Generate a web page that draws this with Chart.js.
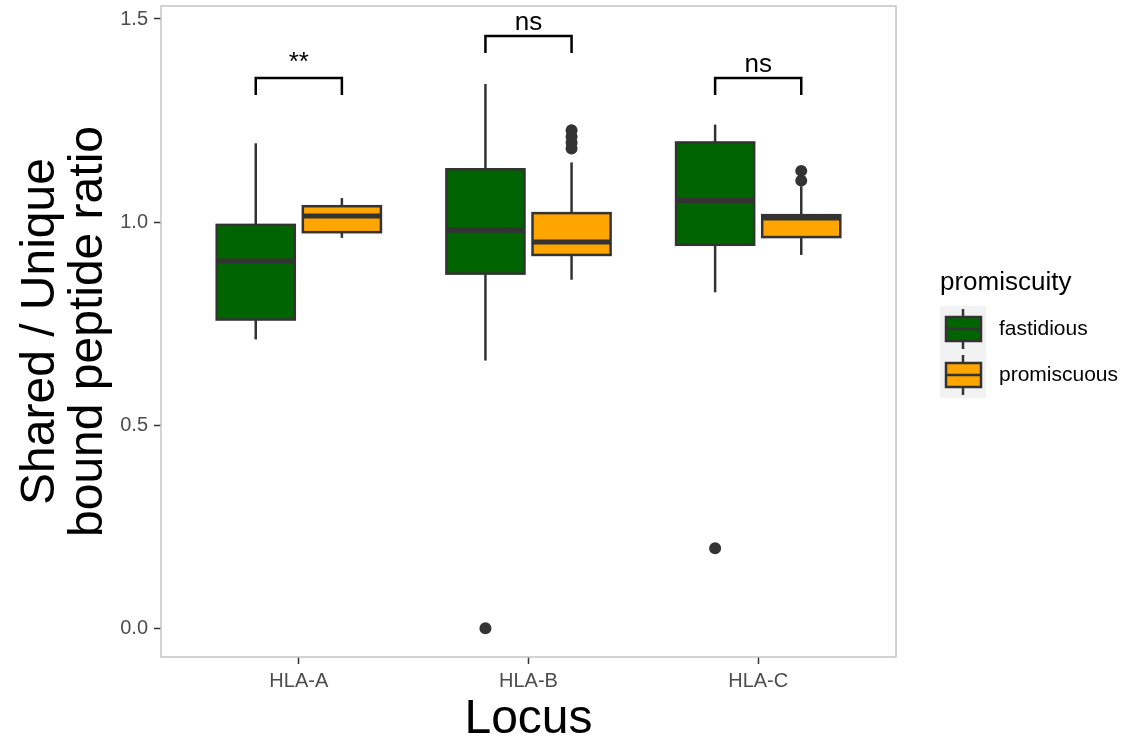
<!DOCTYPE html>
<html>
<head>
<meta charset="utf-8">
<script src="https://cdn.jsdelivr.net/npm/chart.js@4/dist/chart.umd.min.js"></script>
<style>
    body { margin: 0; background: #fff; }
    canvas { display: block; }
</style>
</head>
<body>
<canvas id="box-js" width="1126" height="740"></canvas>
<script>
const loci = ['HLA-A', 'HLA-B', 'HLA-C'];
const yTicks = [0, 0.5, 1.0, 1.5];

// fastidious boxes (whisker low, q1, median, q3, whisker high)
const fastidiousLow = [0.711, 0.659, 0.827];
const fastidiousQ1 = [0.760, 0.873, 0.944];
const fastidiousMedian = [0.904, 0.980, 1.053];
const fastidiousQ3 = [0.993, 1.130, 1.196];
const fastidiousHigh = [1.194, 1.340, 1.240];
const fastidiousOutliers = [[], [0.0], [0.197]];

// promiscuous boxes
const promiscuousLow = [0.961, 0.858, 0.919];
const promiscuousQ1 = [0.975, 0.919, 0.963];
const promiscuousMedian = [1.015, 0.951, 1.010];
const promiscuousQ3 = [1.039, 1.022, 1.017];
const promiscuousHigh = [1.059, 1.147, 1.088];
const promiscuousOutliers = [[], [1.226, 1.210, 1.195, 1.181], [1.126, 1.102]];

// significance brackets
const signifLabels = ['**', 'ns', 'ns'];
const bracketTop = [1.355, 1.458, 1.355];
const bracketDrop = 0.042;

const DODGE = 0.1875;
const BOX_HALF = 0.17;
const FONT = '"Liberation Sans", Arial, sans-serif';

const groups = [
    { name: 'fastidious', color: '#006400', offset: -DODGE, low: fastidiousLow, q1: fastidiousQ1, med: fastidiousMedian, q3: fastidiousQ3, high: fastidiousHigh, out: fastidiousOutliers },
    { name: 'promiscuous', color: '#FFA500', offset: DODGE, low: promiscuousLow, q1: promiscuousQ1, med: promiscuousMedian, q3: promiscuousQ3, high: promiscuousHigh, out: promiscuousOutliers }
];

const outlierSets = groups.map(g => {
    return {
        type: 'scatter',
        label: g.name,
        data: g.out.flatMap((vals, i) => vals.map(v => ({ x: i + 1 + g.offset, y: v }))),
        pointRadius: 6,
        pointHoverRadius: 6,
        backgroundColor: '#333333',
        borderWidth: 0
    }
});

function line(ctx, x1, y1, x2, y2) {
    ctx.beginPath();
    ctx.moveTo(x1, y1);
    ctx.lineTo(x2, y2);
    ctx.stroke();
}

const boxPlugin = {
    id: 'boxes',
    beforeDatasetsDraw(chart) {
        const { ctx, chartArea: area, scales: { x, y } } = chart;
        ctx.save();
        ctx.strokeStyle = '#c4c4c4';
        ctx.lineWidth = 1.5;
        ctx.strokeRect(area.left, area.top, area.right - area.left, area.bottom - area.top);

        const hw = x.getPixelForValue(BOX_HALF) - x.getPixelForValue(0);
        groups.forEach(g => {
            loci.forEach((_, i) => {
                const cx = x.getPixelForValue(i + 1 + g.offset);
                const top = y.getPixelForValue(g.q3[i]);
                const bot = y.getPixelForValue(g.q1[i]);
                ctx.strokeStyle = '#333333';
                ctx.lineWidth = 2.5;
                line(ctx, cx, y.getPixelForValue(g.high[i]), cx, top);
                line(ctx, cx, bot, cx, y.getPixelForValue(g.low[i]));
                ctx.fillStyle = g.color;
                ctx.fillRect(cx - hw, top, hw * 2, bot - top);
                ctx.strokeRect(cx - hw, top, hw * 2, bot - top);
                ctx.lineWidth = 5;
                const my = y.getPixelForValue(g.med[i]);
                line(ctx, cx - hw, my, cx + hw, my);
            });
        });
        ctx.restore();
    },
    afterDatasetsDraw(chart) {
        const { ctx, scales: { x, y } } = chart;
        ctx.save();
        ctx.strokeStyle = '#000';
        ctx.lineWidth = 2.5;
        ctx.fillStyle = '#000';
        ctx.font = '26px ' + FONT;
        ctx.textAlign = 'center';
        ctx.textBaseline = 'alphabetic';
        signifLabels.forEach((lab, i) => {
            const x1 = x.getPixelForValue(i + 1 - DODGE);
            const x2 = x.getPixelForValue(i + 1 + DODGE);
            const yt = y.getPixelForValue(bracketTop[i]);
            const yb = y.getPixelForValue(bracketTop[i] - bracketDrop);
            ctx.beginPath();
            ctx.moveTo(x1, yb);
            ctx.lineTo(x1, yt);
            ctx.lineTo(x2, yt);
            ctx.lineTo(x2, yb);
            ctx.stroke();
            ctx.fillText(lab, (x1 + x2) / 2, yt - (lab === '**' ? 8 : 6));
        });
        ctx.restore();
    },
    afterDraw(chart) {
        const { ctx } = chart;
        ctx.save();
        ctx.fillStyle = '#000';
        ctx.font = '26px ' + FONT;
        ctx.textBaseline = 'middle';
        ctx.fillText('promiscuity', 940, 283);
        ctx.fillStyle = '#f2f2f2';
        ctx.fillRect(940, 306, 46, 92);
        groups.forEach((g, k) => {
            const cy = 329 + k * 46;
            ctx.strokeStyle = '#333333';
            ctx.lineWidth = 2.5;
            line(ctx, 963, cy - 20, 963, cy + 20);
            ctx.fillStyle = g.color;
            ctx.fillRect(946, cy - 12, 35, 24);
            ctx.strokeRect(946, cy - 12, 35, 24);
            line(ctx, 946, cy, 981, cy);
            ctx.fillStyle = '#000';
            ctx.font = '21px ' + FONT;
            ctx.fillText(g.name, 999, cy);
        });
        ctx.restore();
    }
};

new Chart(document.getElementById('box-js').getContext('2d'), {
    type: 'scatter',
    data: { datasets: outlierSets },
    plugins: [boxPlugin],
    options: {
        responsive: false,
        animation: false,
        layout: { padding: { top: 4, right: 230, left: 0, bottom: 0 } },
        plugins: {
            legend: { display: false },
            tooltip: { enabled: false }
        },
        scales: {
            x: {
                type: 'linear',
                min: 0.4,
                max: 3.6,
                afterBuildTicks: (scale) => { scale.ticks = loci.map((_, i) => ({ value: i + 1 })); },
                afterFit: (scale) => {
                    scale.height = 83;
                    scale.paddingLeft = 0;
                    scale.paddingRight = 0;
                },
                ticks: {
                    callback: (v) => loci[v - 1],
                    color: '#4d4d4d',
                    font: { family: FONT, size: 20 },
                    padding: 5,
                    maxRotation: 0
                },
                grid: { drawOnChartArea: false, color: '#333333', tickLength: 7, tickWidth: 1.5 },
                border: { display: false },
                title: {
                    display: true,
                    text: 'Locus',
                    color: '#000',
                    font: { family: FONT, size: 48, lineHeight: 0.83 },
                    padding: { top: 0, bottom: 0 }
                }
            },
            y: {
                type: 'linear',
                min: -0.071,
                max: 1.532,
                afterBuildTicks: (scale) => { scale.ticks = yTicks.map(v => ({ value: v })); },
                afterFit: (scale) => {
                    scale.width = 161;
                    scale.paddingTop = 0;
                    scale.paddingBottom = 0;
                },
                ticks: {
                    callback: (v) => v.toFixed(1),
                    color: '#4d4d4d',
                    font: { family: FONT, size: 20 },
                    padding: 6
                },
                grid: { drawOnChartArea: false, color: '#333333', tickLength: 7, tickWidth: 1.5 },
                border: { display: false },
                title: {
                    display: true,
                    text: ['Shared / Unique', 'bound peptide ratio'],
                    color: '#000',
                    font: { family: FONT, size: 48, lineHeight: 1.0 },
                    padding: { top: 17, bottom: 0 }
                }
            }
        }
    }
});
</script>
</body>
</html>
